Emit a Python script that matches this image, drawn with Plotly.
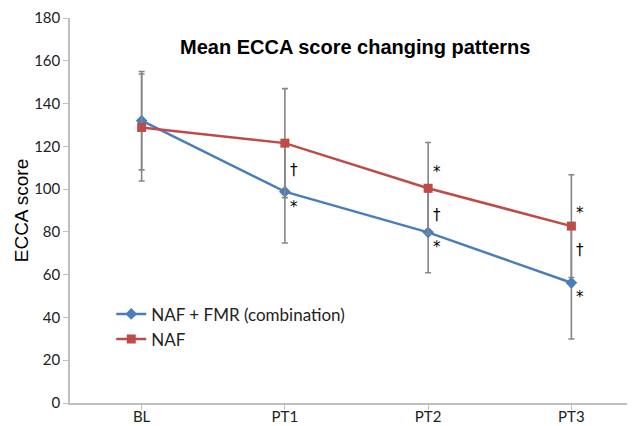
import plotly.graph_objects as go

categories = ["BL", "PT1", "PT2", "PT3"]
combo_mean = [132, 98.8, 79.8, 56.2]
combo_sd = [23, 24, 18.9, 26.3]
naf_mean = [128.8, 121.5, 100.4, 82.7]
naf_sd = [25, 25.5, 21.4, 24]
y_ticks = [0, 20, 40, 60, 80, 100, 120, 140, 160, 180]

# significance marks: (category index, value, symbol)
marks_cat = [1, 1, 2, 2, 2, 3, 3, 3]
marks_val = [109, 91.8, 108, 88, 73, 88.7, 71.5, 49.7]
marks_txt = ["†", "*", "*", "†", "*", "*", "†", "*"]

BLUE = "#4A7EBB"
RED = "#BE4B48"
GRAY = "#868686"

fig = go.Figure()
fig.add_trace(go.Scatter(
    x=list(range(len(categories))), y=combo_mean, mode="lines+markers",
    name="NAF + FMR (combination)",
    line=dict(color=BLUE, width=2.5),
    marker=dict(symbol="diamond", size=9, color=BLUE),
    error_y=dict(type="data", array=combo_sd, color=GRAY, thickness=1.6, width=3),
))
fig.add_trace(go.Scatter(
    x=list(range(len(categories))), y=naf_mean, mode="lines+markers",
    name="NAF",
    line=dict(color=RED, width=2.5),
    marker=dict(symbol="square", size=9, color=RED),
    error_y=dict(type="data", array=naf_sd, color=GRAY, thickness=1.6, width=3),
))

for c, v, t in zip(marks_cat, marks_val, marks_txt):
    fig.add_annotation(x=c, y=v, text=t, showarrow=False, xshift=9,
                       font=dict(size=15, color="black", family="DejaVu Sans"))

fig.add_annotation(x=0.497, xref="paper", xanchor="center",
                   y=0.925, yref="paper", yanchor="middle",
                   text="<b>Mean ECCA score changing patterns</b>", showarrow=False,
                   font=dict(size=20, color="black", family="Liberation Sans"))

fig.update_layout(
    width=635, height=426,
    margin=dict(l=62, r=0, t=10, b=31),
    paper_bgcolor="white", plot_bgcolor="white",
    showlegend=True,
    legend=dict(x=0.072, y=0.277, xanchor="left", yanchor="top",
                font=dict(size=17, color="#222", family="Lato"),
                bgcolor="rgba(0,0,0,0)", itemwidth=30),
    font=dict(family="Lato", color="#333"),
)
fig.update_xaxes(
    tickmode="array", tickvals=list(range(len(categories))), ticktext=categories,
    range=[-0.5, 3.5], showgrid=False, zeroline=False, automargin=False,
    showline=True, linecolor="#BFBFBF", linewidth=1.5,
    ticks="outside", ticklen=5, tickcolor="#BFBFBF", tickson="boundaries",
    ticklabelstandoff=-6,
    tickfont=dict(size=15, color="#222", family="Lato"),
)
fig.update_yaxes(
    range=[0, 180], tickvals=y_ticks, showgrid=False, zeroline=False, automargin=False,
    showline=True, linecolor="#BFBFBF", linewidth=1.5,
    ticks="outside", ticklen=5, tickcolor="#BFBFBF",
    tickfont=dict(size=15, color="#222", family="Lato"),
    title=dict(text="ECCA score", font=dict(size=19, color="black", family="Liberation Sans"), standoff=0),
)

fig.write_html("out.html")
